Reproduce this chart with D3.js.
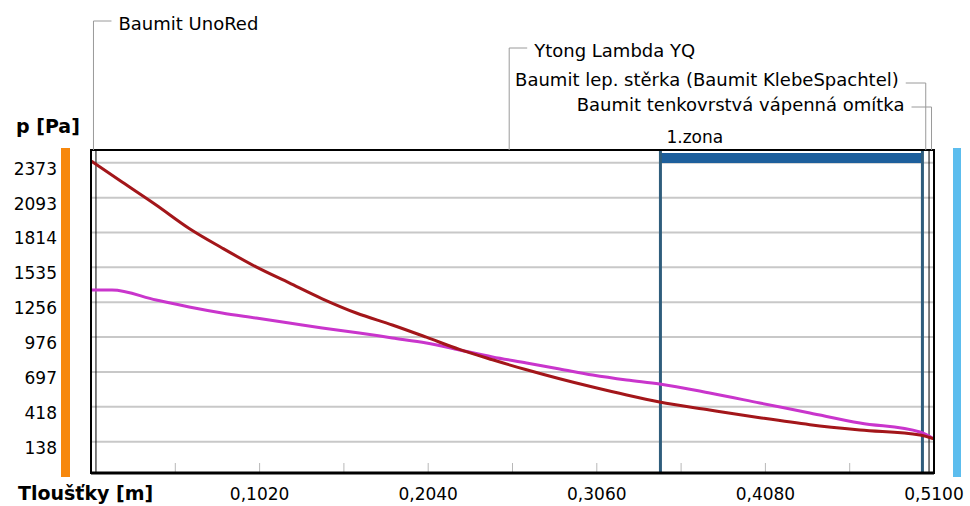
<!DOCTYPE html>
<html>
<head>
<meta charset="utf-8">
<script src="https://cdn.jsdelivr.net/npm/d3@7"></script>
<style>
	body { margin: 0; background: #fff; }
	text { font-family: "DejaVu Sans", sans-serif; fill: #000; }
</style>
</head>
<body>
<div id="chart"></div>
<script>
// pressure ticks [Pa] and thickness ticks [m]
var yTicks = [2373, 2093, 1814, 1535, 1256, 976, 697, 418, 138];
var xLabelTicks = [0.102, 0.204, 0.306, 0.408, 0.51];
var xMinorTicks = [0.051, 0.102, 0.153, 0.204, 0.255, 0.306, 0.357, 0.408, 0.459];

// layers: name + thickness [m]
var layerNames = ["Baumit UnoRed", "Ytong Lambda YQ", "Baumit lep. stěrka (Baumit KlebeSpachtel)", "Baumit tenkovrstvá vápenná omítka"];
var layerThick = [0.003, 0.5, 0.004, 0.003];

var zoneName = "1.zona";
var zoneFrom = 0.3445, zoneTo = 0.503;

// red curve: saturated vapour pressure, magenta: partial vapour pressure
var redX = [0, 0.0188, 0.0394, 0.0594, 0.0793, 0.0999, 0.1199, 0.1399, 0.1605, 0.1823, 0.2029, 0.2229, 0.2429, 0.2635, 0.2835, 0.3035, 0.3241, 0.344, 0.3743, 0.4046, 0.4349, 0.4652, 0.5015, 0.51];
var redP = [2387, 2218, 2034, 1846, 1690, 1538, 1410, 1283, 1169, 1073, 975, 877, 794, 714, 642, 576, 512, 456, 392, 330, 274, 232, 192, 160];
var magX = [0, 0.0127, 0.0394, 0.0594, 0.0793, 0.0999, 0.1199, 0.1399, 0.1623, 0.1823, 0.2029, 0.2229, 0.2429, 0.2635, 0.2835, 0.3035, 0.3241, 0.344, 0.3743, 0.4046, 0.4349, 0.4652, 0.5015, 0.51];
var magP = [1353, 1353, 1273, 1217, 1169, 1129, 1089, 1049, 1009, 969, 929, 873, 817, 769, 721, 672, 632, 600, 528, 448, 368, 288, 216, 160];

var conf = { width: 970, height: 506, left: 91, right: 934, top: 150, bottom: 473 };

var x = d3.scaleLinear().domain([0, 0.51]).range([conf.left, conf.right]);
var y = d3.scaleLinear().domain([138, 2373]).range([441.7, 162.7]);

var $svg = d3.select("#chart").append("svg")
	.attr("width", conf.width)
	.attr("height", conf.height);

// inside / outside bars
$svg.append("rect")
	.attr("x", 61).attr("y", 148).attr("width", 9).attr("height", 329)
	.attr("fill", "#f7880d");
$svg.append("rect")
	.attr("x", 953).attr("y", 148).attr("width", 8).attr("height", 329)
	.attr("fill", "#5cbdee");

// horizontal grid
$svg.append("g").selectAll("line").data(yTicks).enter()
	.append("line")
	.attr("x1", conf.left).attr("x2", conf.right)
	.attr("y1", function(d) { return y(d); })
	.attr("y2", function(d) { return y(d); })
	.attr("stroke", "#c8c8c8")
	.attr("stroke-width", 2);

// minor x ticks inside the plot
$svg.append("g").selectAll("line").data(xMinorTicks).enter()
	.append("line")
	.attr("x1", function(d) { return x(d); })
	.attr("x2", function(d) { return x(d); })
	.attr("y1", 463).attr("y2", 472)
	.attr("stroke", "#b8b8b8")
	.attr("stroke-width", 1);

// layer boundaries
var bounds = [];
var acc = 0;
layerThick.forEach(function(t) { bounds.push(acc); acc += t; });
var layers = layerNames.map(function(n, i) {
	return { name: n, from: bounds[i], to: bounds[i] + layerThick[i] };
});
$svg.append("g").selectAll("line").data(layers.slice(1)).enter()
	.append("line")
	.attr("x1", function(d) { return x(d.from); })
	.attr("x2", function(d) { return x(d.from); })
	.attr("y1", conf.top).attr("y2", conf.bottom)
	.attr("stroke", "#000")
	.attr("stroke-width", 1);

// zone
$svg.append("rect")
	.attr("x", x(zoneFrom)).attr("y", 153)
	.attr("width", x(zoneTo) - x(zoneFrom)).attr("height", 10)
	.attr("fill", "#1d5f9c");
[zoneFrom, zoneTo].forEach(function(v) {
	$svg.append("line")
		.attr("x1", x(v)).attr("x2", x(v))
		.attr("y1", conf.top).attr("y2", conf.bottom)
		.attr("stroke", "#2f5d7c")
		.attr("stroke-width", 3);
});
$svg.append("text")
	.attr("x", x(zoneFrom) + 6).attr("y", 143)
	.style("font-size", "17px")
	.text(zoneName);

// curves
var line = d3.line()
	.curve(d3.curveMonotoneX)
	.x(function(d) { return x(d[0]); })
	.y(function(d) { return y(d[1]); });

$svg.append("path")
	.datum(magX.map(function(v, i) { return [v, magP[i]]; }))
	.attr("d", line)
	.attr("fill", "none")
	.attr("stroke", "#c935cc")
	.attr("stroke-width", 3);
$svg.append("path")
	.datum(redX.map(function(v, i) { return [v, redP[i]]; }))
	.attr("d", line)
	.attr("fill", "none")
	.attr("stroke", "#a3161a")
	.attr("stroke-width", 3);

// frame
$svg.append("rect")
	.attr("x", conf.left).attr("y", conf.top)
	.attr("width", conf.right - conf.left).attr("height", conf.bottom - conf.top)
	.attr("fill", "none")
	.attr("stroke", "#000")
	.attr("stroke-width", 2);
$svg.append("line")
	.attr("x1", conf.left).attr("x2", conf.right)
	.attr("y1", conf.bottom).attr("y2", conf.bottom)
	.attr("stroke", "#000")
	.attr("stroke-width", 3);

// y labels
$svg.append("g").selectAll("text").data(yTicks).enter()
	.append("text")
	.attr("x", 57)
	.attr("y", function(d) { return y(d) + 12; })
	.attr("text-anchor", "end")
	.style("font-size", "17px")
	.text(function(d) { return d; });

// x labels
$svg.append("g").selectAll("text").data(xLabelTicks).enter()
	.append("text")
	.attr("x", function(d) { return x(d); })
	.attr("y", 500)
	.attr("text-anchor", "middle")
	.style("font-size", "17px")
	.text(function(d) { return d.toFixed(4).replace(".", ","); });

$svg.append("text")
	.attr("x", 16).attr("y", 133)
	.style("font-size", "19px").style("font-weight", "bold")
	.text("p [Pa]");
$svg.append("text")
	.attr("x", 18).attr("y", 500)
	.style("font-size", "19px").style("font-weight", "bold")
	.text("Tloušťky [m]");

// layer labels with leader lines
var labelConf = [
	{ ly: 21, side: "right", ty: 30 },
	{ ly: 48, side: "right", ty: 57 },
	{ ly: 83, side: "left", ty: 86 },
	{ ly: 107, side: "left", ty: 111 }
];
layers.forEach(function(d, i) {
	var c = labelConf[i];
	var cx = x((d.from + d.to) / 2);
	var hx = c.side === "right" ? cx + 18 : cx - 20;
	$svg.append("path")
		.attr("d", "M" + cx + "," + conf.top + "V" + c.ly + "H" + hx)
		.attr("fill", "none")
		.attr("stroke", "#9a9a9a")
		.attr("stroke-width", 1);
	$svg.append("text")
		.attr("x", c.side === "right" ? hx + 7 : hx - 7)
		.attr("y", c.ty)
		.attr("text-anchor", c.side === "right" ? "start" : "end")
		.style("font-size", "18px")
		.text(d.name);
});
</script>
</body>
</html>
